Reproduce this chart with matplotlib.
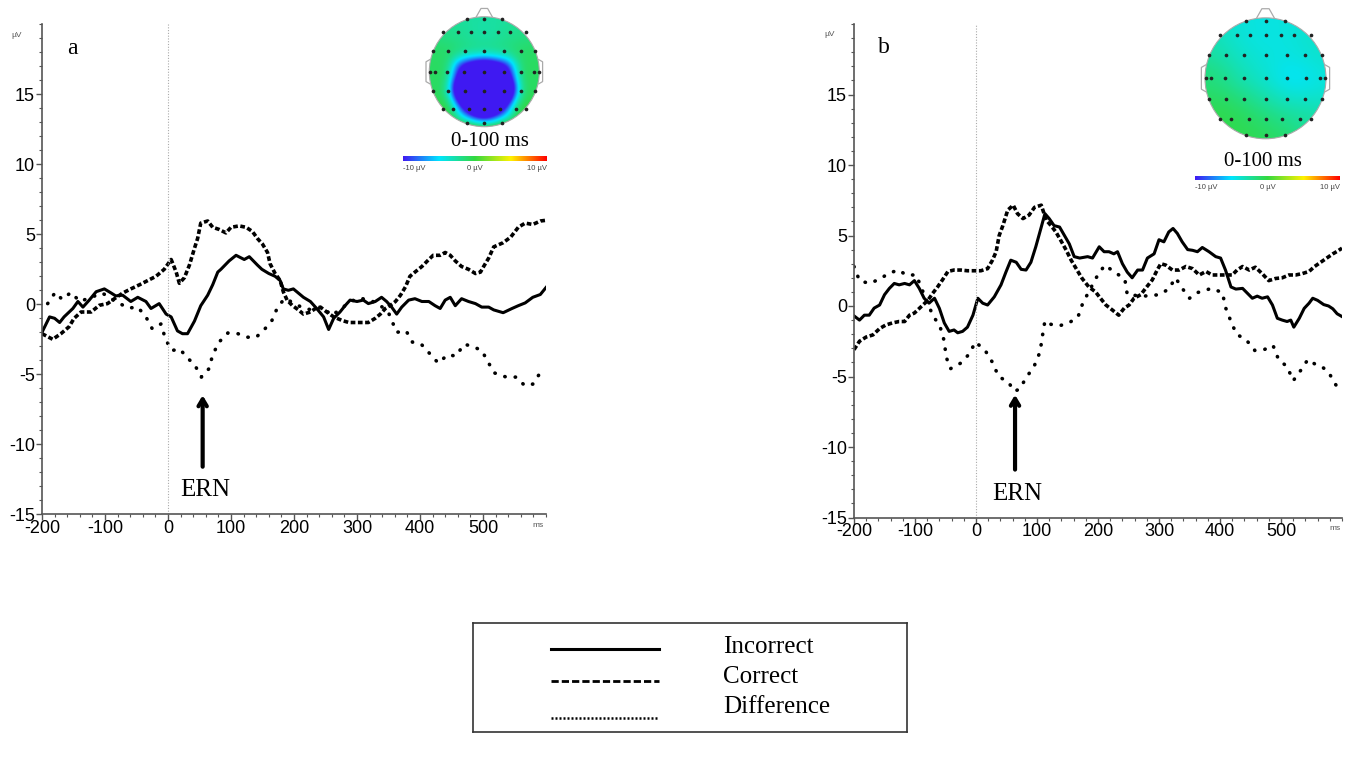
import numpy as np
import matplotlib.pyplot as plt
from matplotlib.colors import LinearSegmentedColormap
from matplotlib.patches import Circle
from matplotlib.ticker import MultipleLocator

plt.rcParams['font.family'] = ['Liberation Sans', 'DejaVu Sans']
plt.rcParams['axes.unicode_minus'] = False
SERIF = ['Liberation Serif', 'DejaVu Serif']

# ---- panel a: ERP waveforms (ms, uV) ----
inc_a_t = [-200, -188, -180, -172, -165, -151, -143, -135, -125, -114, -101, -90, -83, -72, -59, -48, -35, -27,
           -14, -3, 5, 15, 23, 31, 42, 52, 63, 71, 79, 84, 97, 108, 121, 129, 142, 149, 160, 170, 178, 183, 191,
           199, 207, 215, 226, 236, 247, 255, 263, 273, 281, 289, 300, 310, 318, 329, 339, 347, 355, 363, 371,
           382, 392, 403, 414, 424, 432, 440, 448, 456, 466, 477, 488, 498, 509, 517, 532, 546, 556, 567, 579,
           591, 600]
inc_a_v = [-2.0, -0.9, -1.0, -1.3, -0.9, -0.3, 0.2, -0.2, 0.3, 0.9, 1.1, 0.8, 0.6, 0.65, 0.2, 0.5, 0.2, -0.3,
           0.05, -0.7, -0.9, -1.9, -2.1, -2.1, -1.2, -0.1, 0.65, 1.4, 2.3, 2.5, 3.1, 3.5, 3.2, 3.4, 2.8, 2.5, 2.2,
           2.0, 1.7, 1.1, 1.0, 1.1, 0.8, 0.5, 0.2, -0.3, -0.9, -1.8, -1.0, -0.55, -0.1, 0.3, 0.2, 0.3, 0.05, 0.2,
           0.5, 0.2, -0.2, -0.7, -0.2, 0.3, 0.4, 0.2, 0.2, -0.1, -0.3, 0.3, 0.5, -0.1, 0.4, 0.2, 0.05, -0.2, -0.2,
           -0.4, -0.6, -0.3, -0.1, 0.1, 0.5, 0.7, 1.2]

cor_a_t = [-200, -183, -170, -157, -149, -138, -122, -109, -96, -85, -72, -59, -45, -32, -19, -6, 5, 13, 18, 26,
           34, 42, 47, 52, 63, 71, 81, 92, 100, 113, 124, 134, 142, 150, 158, 162, 170, 178, 183, 189, 197, 207,
           215, 226, 234, 242, 252, 263, 276, 287, 302, 318, 329, 337, 345, 353, 361, 369, 377, 384, 392, 403,
           414, 421, 432, 440, 448, 456, 466, 477, 488, 496, 501, 509, 517, 532, 544, 556, 567, 579, 591, 600]
cor_a_v = [-2.1, -2.5, -2.1, -1.6, -1.0, -0.55, -0.55, -0.07, 0.05, 0.4, 0.8, 1.1, 1.4, 1.7, 2.0, 2.5, 3.2, 2.3,
           1.5, 1.9, 2.8, 4.0, 4.7, 5.8, 5.95, 5.5, 5.35, 5.1, 5.5, 5.6, 5.5, 5.2, 4.7, 4.3, 3.7, 2.9, 2.2, 1.7,
           0.9, 0.3, -0.07, -0.4, -0.7, -0.55, -0.3, -0.2, -0.55, -0.9, -1.15, -1.3, -1.3, -1.3, -1.0, -0.7, -0.3,
           -0.07, 0.2, 0.65, 1.25, 2.0, 2.3, 2.7, 3.2, 3.5, 3.5, 3.7, 3.5, 3.1, 2.7, 2.5, 2.2, 2.3, 2.7, 3.3, 4.1,
           4.4, 4.8, 5.5, 5.8, 5.7, 5.95, 6.0]

dif_a_t = [-191, -179, -168, -154, -140, -122, -104, -87, -63, -48, -35, -25, -11, -4, 6, 19, 30, 42, 53, 65, 71,
           81, 95, 111, 125, 140, 153, 165, 174, 185, 200, 215, 230, 245, 260, 275, 290, 303, 320, 335, 350, 363,
           378, 388, 402, 415, 429, 444, 457, 470, 483, 498, 509, 518, 537, 553, 566, 579, 590, 600]
dif_a_v = [0.05, 0.85, 0.35, 0.85, 0.2, 0.5, 0.8, 0.3, -0.27, -0.2, -0.9, -1.75, -1.4, -2.5, -3.3, -3.2, -3.8,
           -4.3, -5.2, -4.6, -3.6, -2.7, -2.05, -2.1, -2.35, -2.35, -1.8, -1.15, -0.2, 0.4, 0.1, -0.3, -0.4, -0.2,
           -0.8, -0.3, 0.2, 0.45, 0.3, 0.0, -0.6, -2.0, -1.9, -2.7, -2.85, -3.5, -4.2, -3.6, -3.7, -2.85, -3.0,
           -3.3, -4.2, -4.9, -5.2, -5.2, -5.8, -5.7, -4.95, -5.1]

# ---- panel b ----
inc_b_t = [-200, -191, -183, -175, -167, -158, -150, -142, -134, -126, -117, -109, -101, -93, -85, -77, -68, -60,
           -52, -44, -36, -30, -22, -14, -5, 3, 11, 19, 30, 41, 49, 57, 66, 74, 82, 90, 98, 107, 113, 120, 128,
           137, 145, 153, 161, 170, 183, 191, 202, 210, 218, 226, 232, 240, 248, 256, 265, 273, 281, 292, 300,
           308, 316, 323, 330, 338, 347, 355, 363, 371, 382, 393, 401, 409, 418, 426, 437, 445, 453, 461, 469,
           478, 486, 494, 502, 510, 516, 521, 530, 538, 546, 552, 560, 570, 578, 585, 592, 600]
inc_b_v = [-0.7, -1.0, -0.65, -0.65, -0.15, 0.07, 0.8, 1.25, 1.6, 1.5, 1.6, 1.5, 1.8, 1.25, 0.55, 0.2, 0.55,
           -0.17, -1.2, -1.8, -1.7, -1.9, -1.8, -1.5, -0.65, 0.55, 0.2, 0.07, 0.65, 1.5, 2.4, 3.25, 3.1, 2.6, 2.55,
           3.1, 4.2, 5.6, 6.55, 6.2, 5.7, 5.6, 5.0, 4.4, 3.5, 3.4, 3.5, 3.4, 4.2, 3.85, 3.85, 3.7, 3.85, 3.0, 2.4,
           2.0, 2.55, 2.55, 3.4, 3.7, 4.7, 4.55, 5.25, 5.5, 5.15, 4.55, 4.0, 3.95, 3.85, 4.15, 3.85, 3.5, 3.4,
           2.55, 1.35, 1.2, 1.25, 0.9, 0.55, 0.7, 0.55, 0.65, 0.07, -0.87, -1.0, -1.1, -1.0, -1.5, -0.87, -0.17,
           0.2, 0.55, 0.4, 0.1, 0.0, -0.2, -0.55, -0.75]

cor_b_t = [-200, -191, -180, -169, -158, -148, -137, -126, -117, -109, -101, -90, -79, -71, -63, -55, -46, -36,
           -25, -14, -3, 8, 19, 27, 33, 38, 44, 52, 61, 68, 77, 87, 96, 107, 115, 123, 131, 139, 148, 156, 167,
           174, 185, 196, 204, 213, 224, 234, 243, 251, 259, 270, 278, 289, 297, 303, 311, 322, 333, 344, 355,
           366, 377, 387, 398, 412, 420, 428, 437, 448, 458, 469, 480, 491, 502, 513, 524, 535, 546, 555, 565,
           575, 585, 593, 600]
cor_b_v = [-3.1, -2.5, -2.2, -2.05, -1.6, -1.35, -1.2, -1.1, -1.1, -0.65, -0.5, -0.05, 0.4, 0.9, 1.35, 1.85,
           2.45, 2.55, 2.55, 2.5, 2.5, 2.5, 2.65, 3.25, 3.85, 5.0, 5.7, 6.8, 7.15, 6.55, 6.2, 6.45, 7.0, 7.15, 6.1,
           5.7, 5.25, 4.65, 3.95, 3.25, 2.45, 1.95, 1.35, 1.0, 0.55, 0.07, -0.3, -0.65, -0.15, 0.07, 0.55, 0.8,
           1.25, 1.85, 2.55, 3.0, 2.9, 2.55, 2.55, 2.8, 2.65, 2.2, 2.45, 2.2, 2.2, 2.2, 2.2, 2.55, 2.8, 2.55, 2.75,
           2.3, 1.8, 1.95, 2.0, 2.2, 2.2, 2.3, 2.45, 2.8, 3.1, 3.4, 3.7, 3.9, 4.1]

dif_b_t = [-200, -191, -175, -158, -142, -126, -115, -98, -85, -71, -59, -52, -49, -42, -25, -11, -1, 15, 27, 37,
           53, 63, 71, 83, 96, 105, 109, 113, 123, 137, 152, 167, 175, 197, 211, 244, 248, 275, 300, 316, 327,
           339, 350, 363, 386, 404, 409, 418, 427, 443, 457, 472, 487, 496, 510, 520, 531, 544, 555, 567, 578, 590]
dif_b_v = [2.8, 1.8, 1.6, 1.9, 2.35, 2.55, 2.2, 2.2, 0.8, -0.65, -1.45, -2.5, -3.6, -4.45, -4.05, -3.4, -2.55,
           -3.15, -4.0, -5.0, -5.4, -6.05, -5.9, -5.05, -4.2, -3.25, -2.1, -1.05, -1.3, -1.4, -1.2, -0.8, 0.2, 2.0,
           2.9, 1.9, 0.8, 0.7, 0.8, 1.2, 2.0, 1.2, 0.55, 0.95, 1.25, 0.95, -0.1, -1.1, -2.0, -2.4, -3.15, -3.1,
           -2.8, -3.8, -4.3, -5.3, -4.65, -3.8, -4.1, -4.3, -4.7, -5.6]

# ---- topographic maps 0-100 ms: electrode rows (y) with x positions and uV values ----
elec_rows_y = [0.95, 0.72, 0.38, 0.0, -0.35, -0.67, -0.93]
elec_rows_x = [[-0.32, 0, 0.32],
               [-0.75, -0.47, -0.25, 0, 0.25, 0.47, 0.75],
               [-0.93, -0.66, -0.35, 0, 0.35, 0.66, 0.93],
               [-0.99, -0.9, -0.67, -0.36, 0, 0.36, 0.67, 0.9, 0.99],
               [-0.93, -0.66, -0.35, 0, 0.35, 0.66, 0.93],
               [-0.75, -0.57, -0.28, 0, 0.28, 0.57, 0.75],
               [-0.32, 0, 0.32]]
topo_a = [[-2.5, -2.5, -2.5],
          [-2, -2, -2.5, -3, -2.5, -2, -2],
          [-1, -1, -1.5, -1.5, -1.5, -1, -1],
          [-1, -1, 0, -16, -22, -16, 0, -1, -1],
          [-1, 0, -32, -42, -32, 0, -1],
          [0, 1, -16, -32, -16, 1, 0],
          [4, 5, 4]]
topo_b = [[-4, -4.3, -4],
          [-3.2, -3.8, -4.2, -4.3, -4.2, -4, -3.5],
          [-2.5, -3, -3.6, -4, -4.3, -4, -3.5],
          [-1.3, -1.6, -2.3, -3.2, -3.8, -4.8, -5, -4.2, -3.8],
          [-0.6, -1, -1.8, -2.8, -3.6, -3.8, -3.3],
          [-0.2, -0.4, -0.8, -1.5, -2, -2.3, -2.3],
          [-0.3, -0.5, -1]]

topo_cmap = LinearSegmentedColormap.from_list(
    'topo', [(0, (0.25, 0.1, 0.95)), (0.25, (0.0, 0.9, 1.0)), (0.5, (0.2, 0.85, 0.25)),
             (0.75, (1.0, 0.95, 0.0)), (1, (1.0, 0.0, 0.0))])

W, H = 1368, 758
fig = plt.figure(figsize=(W / 100, H / 100), dpi=100)


def px_axes(x0, y0, x1, y1):
    # box given in image pixels (origin top-left)
    return fig.add_axes([x0 / W, 1 - y1 / H, (x1 - x0) / W, (y1 - y0) / H])


def erp_panel(box, letter, inc, cor, dif, ern_x, ern_tip):
    ax = px_axes(*box)
    ax.plot(inc[0], inc[1], color='black', lw=2.2, solid_joinstyle='round')
    ax.plot(cor[0], cor[1], color='black', lw=2.6, linestyle=(0, (1.3, 0.7)), dash_capstyle='butt')
    ax.plot(dif[0], dif[1], color='black', lw=2.6, linestyle=(0, (0.1, 2.8)), dash_capstyle='round')
    ax.axvline(0, color='#aaaaaa', lw=0.8, linestyle=(0, (1, 1.5)))
    ax.set_xlim(-200, 600)
    ax.set_ylim(-15, 20)
    ax.set_xticks(range(-200, 501, 100))
    ax.set_yticks(range(-15, 16, 5))
    ax.xaxis.set_minor_locator(MultipleLocator(20))
    ax.yaxis.set_minor_locator(MultipleLocator(1))
    ax.tick_params(which='major', direction='out', length=4, width=1, color='#555555', labelsize=13, pad=1)
    ax.tick_params(which='minor', direction='out', length=2.5, width=0.8, color='#555555')
    ax.tick_params(axis='x', pad=0)
    for s in ['top', 'right']:
        ax.spines[s].set_visible(False)
    for s in ['left', 'bottom']:
        ax.spines[s].set_color('#555555')
        ax.spines[s].set_linewidth(1.2)
    ax.text(-160, 18.3, letter, fontsize=17, family=SERIF, va='center', ha='left')
    ax.annotate('', xy=(ern_x, ern_tip), xytext=(ern_x, -11.8),
                arrowprops=dict(arrowstyle='->,head_length=0.5,head_width=0.3', lw=3, color='black'))
    ax.text(ern_x + 4, -13.3, 'ERN', fontsize=18, family=SERIF, ha='center', va='center')
    ax.text(-0.05, 0.975, 'µV', transform=ax.transAxes, fontsize=6, color='#555555', ha='center')
    ax.text(0.985, -0.015, 'ms', transform=ax.transAxes, fontsize=6, color='#555555', ha='center', va='top')
    return ax


erp_panel((42, 24.3, 546, 514.3), 'a', (inc_a_t, inc_a_v), (cor_a_t, cor_a_v), (dif_a_t, dif_a_v), 55, -6.3)
erp_panel((854, 24, 1342, 517.5), 'b', (inc_b_t, inc_b_v), (cor_b_t, cor_b_v), (dif_b_t, dif_b_v), 64, -6.1)


def topomap(cx, cy, r, vals, cbar_box, title_xy, sigma):
    s = 1.25 * r
    ax = px_axes(cx - s, cy - s, cx + s, cy + s)
    ax.set_xlim(-1.25, 1.25)
    ax.set_ylim(-1.25, 1.25)
    ax.axis('off')
    ex = np.concatenate([np.array(xs, float) for xs in elec_rows_x])
    ey = np.concatenate([np.full(len(xs), y) for xs, y in zip(elec_rows_x, elec_rows_y)])
    ev = np.concatenate([np.array(v, float) for v in vals])
    g = np.linspace(-1, 1, 301)
    X, Y = np.meshgrid(g, g)
    d2 = (X[..., None] - ex) ** 2 + (Y[..., None] - ey) ** 2
    w = np.exp(-d2 / (2 * sigma ** 2))
    Z = (w * ev).sum(-1) / w.sum(-1)
    im = ax.imshow(Z, extent=(-1, 1, -1, 1), origin='lower', cmap=topo_cmap, vmin=-10, vmax=10,
                   interpolation='bilinear')
    im.set_clip_path(Circle((0, 0), 1, transform=ax.transData))
    ax.add_patch(Circle((0, 0), 1, fill=False, ec='#aaaaaa', lw=0.8))
    ax.plot([-0.15, -0.06, 0.06, 0.15], [0.99, 1.15, 1.15, 0.99], color='#aaaaaa', lw=0.9)
    for sgn in (-1, 1):
        ax.plot([sgn * 0.99, sgn * 1.06, sgn * 1.06, sgn * 0.99], [0.22, 0.18, -0.18, -0.22],
                color='#aaaaaa', lw=0.9)
    ax.scatter(ex, ey, s=7, color='#222222', zorder=3, linewidths=0)
    fig.text(title_xy[0] / W, 1 - title_xy[1] / H, '0-100 ms', fontsize=15, family=SERIF,
             ha='center', va='center')
    cax = px_axes(*cbar_box)
    cax.imshow(np.linspace(0, 1, 256)[None, :], cmap=topo_cmap, aspect='auto')
    cax.axis('off')
    x0, y0, x1, y1 = cbar_box
    ly = 1 - (y1 + 7.5) / H
    fig.text(x0 / W, ly, '-10 µV', fontsize=5.5, color='#444444', ha='left', va='center')
    fig.text((x0 + x1) / 2 / W, ly, '0 µV', fontsize=5.5, color='#444444', ha='center', va='center')
    fig.text(x1 / W, ly, '10 µV', fontsize=5.5, color='#444444', ha='right', va='center')


topomap(484.3, 71.7, 55, topo_a, (402.7, 156, 546.7, 160.7), (490, 141), 0.18)
topomap(1265.5, 78.3, 60.5, topo_b, (1195, 175.7, 1340, 180), (1263, 161.7), 0.21)

# ---- legend box ----
lg = px_axes(473, 622.7, 907, 732)
lg.set_xlim(473, 907)
lg.set_ylim(732, 622.7)
lg.set_xticks([])
lg.set_yticks([])
for s in lg.spines.values():
    s.set_linewidth(1.2)
    s.set_color('#333333')
lg.plot([551, 659], [649, 649], color='black', lw=2.2)
lg.plot([551, 659], [681, 681], color='black', lw=2, linestyle=(0, (2.6, 1.1)))
lg.plot([551, 659], [718, 718], color='black', lw=1.8, linestyle=(0, (0.8, 0.8)))
for label, y in [('Incorrect', 647), ('Correct', 677), ('Difference', 707)]:
    lg.text(723, y, label, fontsize=18, family=SERIF, va='center', ha='left')

fig.savefig('out.png', dpi=100)
